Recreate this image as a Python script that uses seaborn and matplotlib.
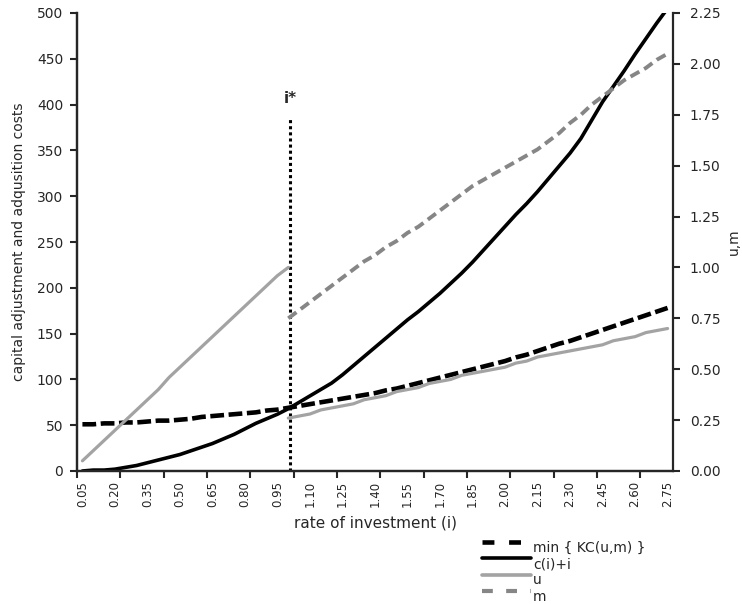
import numpy as np
import pandas as pd
import matplotlib
matplotlib.use("Agg")
import matplotlib.pyplot as plt
from matplotlib.lines import Line2D
import seaborn as sns

# categories on the x axis (rate of investment)
rate = [f"{0.05 * n:.2f}" for n in range(1, 56)]
istar_pos = 19.2  # where i* sits on the category axis

# left axis: costs
min_kc = [51, 51, 52, 52, 53, 53, 54, 55, 55, 56, 57, 59, 60, 61, 62, 63, 64, 66, 67, 69,
          71, 73, 75, 77, 79, 81, 83, 85, 88, 90, 93, 96, 99, 102, 105, 108, 111, 114, 117, 120,
          124, 127, 131, 135, 139, 142, 146, 150, 154, 158, 162, 166, 170, 174, 178]
c_plus_i = [0, 1, 1, 2, 4, 6, 9, 12, 15, 18, 22, 26, 30, 35, 40, 46, 52, 57, 62, 68,
            75, 82, 89, 96, 105, 115, 125, 135, 145, 155, 165, 174, 184, 194, 205, 216, 228, 241, 254, 267,
            280, 292, 305, 319, 333, 347, 363, 383, 403, 420, 437, 455, 472, 489, 505]

# right axis: u before i* (categories 0..19) and after i* (19..54), m after i*
u_before = [0.05, 0.10, 0.15, 0.20, 0.25, 0.30, 0.35, 0.40, 0.46, 0.51,
            0.56, 0.61, 0.66, 0.71, 0.76, 0.81, 0.86, 0.91, 0.96, 1.00]
u_after = [0.26, 0.27, 0.28, 0.30, 0.31, 0.32, 0.33, 0.35, 0.36, 0.37, 0.39, 0.40,
           0.41, 0.43, 0.44, 0.45, 0.47, 0.48, 0.49, 0.50, 0.51, 0.53, 0.54, 0.56,
           0.57, 0.58, 0.59, 0.60, 0.61, 0.62, 0.64, 0.65, 0.66, 0.68, 0.69, 0.70]
m_after = [0.75, 0.79, 0.83, 0.87, 0.91, 0.95, 0.99, 1.03, 1.06, 1.10, 1.13, 1.17,
           1.20, 1.24, 1.28, 1.32, 1.36, 1.40, 1.43, 1.46, 1.49, 1.52, 1.55, 1.58,
           1.62, 1.66, 1.71, 1.75, 1.80, 1.84, 1.88, 1.92, 1.95, 1.98, 2.02, 2.05]

sns.set_style("ticks")
plt.rcParams['font.family'] = ['DejaVu Sans']

pos = np.arange(len(rate))
start = len(u_before) - 1
costs = pd.DataFrame({'pos': pos, 'min_kc': min_kc, 'c': c_plus_i})
low = pd.DataFrame({'pos': pos[:start + 1], 'u': u_before})
high = pd.DataFrame({'pos': pos[start:], 'u': u_after, 'm': m_after})

W, H = 742, 604
fig = plt.figure(figsize=(W / 100, H / 100), dpi=100)
ax = fig.add_axes([77 / W, 1 - 471 / H, 596 / W, 458 / H])
ax2 = ax.twinx()

black_dash = (0, (3, 1))
gray_dash = (0, (2.6, 1.4))
u_col, m_col = '#a3a3a3', '#868686'

sns.lineplot(data=costs, x='pos', y='min_kc', ax=ax, color='black', linewidth=3.3,
             linestyle=black_dash, legend=False)
sns.lineplot(data=costs, x='pos', y='c', ax=ax, color='black', linewidth=2.6, legend=False)
sns.lineplot(data=low, x='pos', y='u', ax=ax2, color=u_col, linewidth=2.3, legend=False)
sns.lineplot(data=high, x='pos', y='u', ax=ax2, color=u_col, linewidth=2.3, legend=False)
sns.lineplot(data=high, x='pos', y='m', ax=ax2, color=m_col, linewidth=2.8,
             linestyle=gray_dash, legend=False)

# i* marker
ax.plot([istar_pos, istar_pos], [0, 386], color='black', linewidth=2.2, linestyle=(0, (1, 1)))
ax.text(istar_pos, 399, 'i*', ha='center', va='bottom', fontsize=11, fontweight='bold')

ax.set_xlim(-0.5, len(rate) - 0.5)
ax.set_ylim(0, 500)
ax2.set_ylim(0, 2.25)
ax.set_yticks(np.arange(0, 501, 50))
ax2.set_yticks(np.arange(0, 2.26, 0.25))
ax2.set_yticklabels([f"{v:.2f}" for v in np.arange(0, 2.26, 0.25)])

ax.set_xticks(pos[::3])
ax.set_xticklabels(rate[::3], rotation=90)
ax.set_xticks(np.arange(-0.5, len(rate) - 1, 4), minor=True)
ax.tick_params(axis='x', which='major', length=0, pad=7, labelsize=8.5)
ax.tick_params(axis='x', which='minor', length=5, width=1.5, direction='out')
ax.tick_params(axis='y', length=5, width=1.5, labelsize=10, pad=5)
ax2.tick_params(axis='y', length=5, width=1.5, labelsize=10, pad=7)

for a in (ax, ax2):
    a.spines['top'].set_visible(False)
    for s in ('left', 'right', 'bottom'):
        a.spines[s].set_linewidth(1.6)
ax.spines['right'].set_visible(False)

ax.set_xlabel('rate of investment (i)', fontsize=11, labelpad=6)
ax.set_ylabel('capital adjustment and adqusition costs', fontsize=10, labelpad=8)
ax2.set_ylabel('u,m', fontsize=10, labelpad=5)

# legend drawn in figure pixels, Excel style (text sits a little below its line)
entries = [('min { KC(u,m) }', 'black', 3.3, (0, (2.6, 3.2)), 541.5),
           ('c(i)+i', 'black', 2.6, '-', 558),
           ('u', u_col, 2.6, '-', 574.5),
           ('m', m_col, 3.0, (0, (2.6, 3.2)), 591)]
for label, col, lw, ls, y in entries:
    fig.add_artist(Line2D([482 / W, 531 / W], [1 - y / H, 1 - y / H], transform=fig.transFigure,
                          color=col, linewidth=lw, linestyle=ls))
    fig.text(533 / W, 1 - (y + 6) / H, label, fontsize=10, va='center', ha='left')

plt.savefig('out.png', dpi=100)
